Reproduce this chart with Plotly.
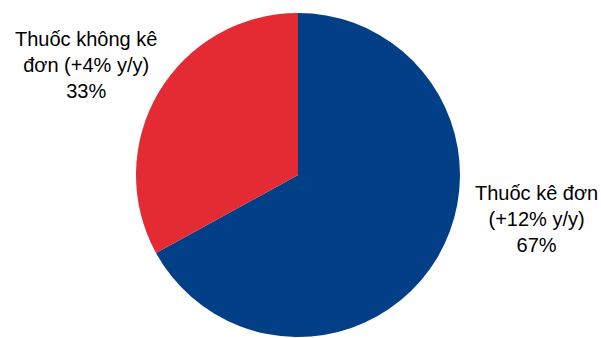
import plotly.graph_objects as go

labels = ["Thuốc kê đơn", "Thuốc không kê đơn"]
values = [67, 33]
growth = ["+12% y/y", "+4% y/y"]
colors = ["#023F86", "#E42A33"]

fig = go.Figure(go.Pie(
    labels=labels, values=values, sort=False, direction="clockwise", rotation=0,
    marker=dict(colors=colors, line=dict(width=0)),
    textinfo="none", hoverinfo="label+percent", showlegend=False,
    domain=dict(x=[136/601, 460/601], y=[1/338, 325/338]),
))

texts = [
    f"{labels[0]}<br>({growth[0]})<br>{values[0]}%",
    "Thuốc không kê<br>đơn (" + growth[1] + ")<br>" + f"{values[1]}%",
]
positions = [(536, 219), (86, 65)]
for t, (px, py) in zip(texts, positions):
    fig.add_annotation(text=t, x=px/601, y=1-py/338, xref="paper", yref="paper",
                       xanchor="center", yanchor="middle", showarrow=False,
                       font=dict(family="Liberation Sans, Arial", size=20, color="#000000"))

fig.update_layout(width=601, height=338, margin=dict(l=0, r=0, t=0, b=0),
                  paper_bgcolor="white", plot_bgcolor="white")
fig.write_html("out.html")
